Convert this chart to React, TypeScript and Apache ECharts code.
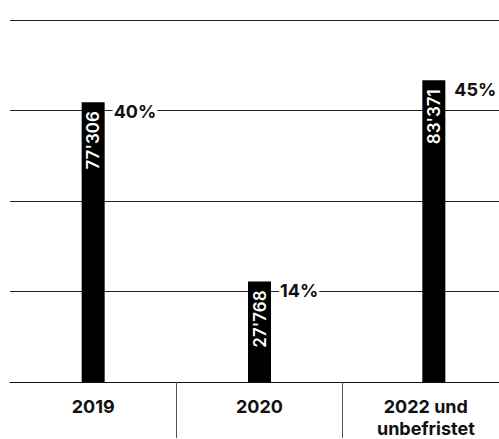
import React, { useEffect, useRef } from "react";
import * as echarts from "echarts";

const categories = ["2019", "2020", "2022 und\nunbefristet"];
const values = [77306, 27768, 83371];
const shares = ["40%", "14%", "45%"];
const yTicks = [0, 25000, 50000, 75000, 100000];

const fmt = (n: number) => String(n).replace(/\B(?=(\d{3})+(?!\d))/g, "'");

export default function App() {
  const ref = useRef<HTMLDivElement>(null);
  useEffect(() => {
    if (!ref.current) return;
    const chart = echarts.init(ref.current, null, { renderer: "svg" });
    const FONT = "Inter, 'Noto Sans', sans-serif";
    const BAR_W = 23;
    chart.setOption({
      animation: false,
      grid: { left: 10, right: 0, top: 20, bottom: 56 },
      xAxis: {
        type: "category",
        data: categories,
        boundaryGap: true,
        axisLine: { show: true, lineStyle: { color: "#111", width: 1 } },
        axisTick: {
          show: true,
          length: 56,
          interval: (i: number) => i > 0,
          lineStyle: { color: "#555", width: 1 },
        },
        axisLabel: {
          color: "#111",
          fontFamily: FONT,
          fontWeight: "bold",
          fontSize: 18,
          lineHeight: 22,
          margin: 13,
          interval: 0,
        },
      },
      yAxis: {
        type: "value",
        min: yTicks[0],
        max: yTicks[yTicks.length - 1],
        interval: yTicks[1] - yTicks[0],
        axisLabel: { show: false },
        axisLine: { show: false },
        axisTick: { show: false },
        splitLine: { show: true, lineStyle: { color: "#222", width: 1 } },
      },
      series: [
        {
          type: "custom",
          data: values.map((v, i) => [i, v]),
          z: 3,
          renderItem: (params: any, api: any) => {
            const idx = api.value(0);
            const v = api.value(1);
            const top = api.coord([idx, v]);
            const base = api.coord([idx, 0]);
            const shift = idx === 2 ? 8 : 0;
            const cx = top[0] + shift;
            const x0 = cx - BAR_W / 2;
            return {
              type: "group",
              children: [
                {
                  type: "rect",
                  shape: { x: x0, y: top[1], width: BAR_W, height: base[1] - top[1] },
                  style: { fill: "#000" },
                },
                {
                  type: "text",
                  x: cx,
                  y: top[1] + 9,
                  rotation: Math.PI / 2,
                  style: {
                    text: fmt(values[idx]),
                    fill: "#fff",
                    font: `600 17px ${FONT}`,
                    align: "right",
                    verticalAlign: "middle",
                  },
                },
                {
                  type: "text",
                  x: x0 + BAR_W + 8,
                  y: top[1] + 9,
                  style: {
                    text: shares[idx],
                    fill: "#111",
                    font: `bold 18px ${FONT}`,
                    align: "left",
                    verticalAlign: "middle",
                    backgroundColor: "#fff",
                    padding: [0, 1],
                  },
                },
              ],
            };
          },
        },
      ],
    });
    return () => chart.dispose();
  }, []);
  return (
    <div
      style={{ position: "fixed", left: 0, top: 0, width: 499, height: 439, overflow: "hidden", background: "#fff" }}
    >
      <div ref={ref} style={{ width: 509, height: 439 }} />
    </div>
  );
}
